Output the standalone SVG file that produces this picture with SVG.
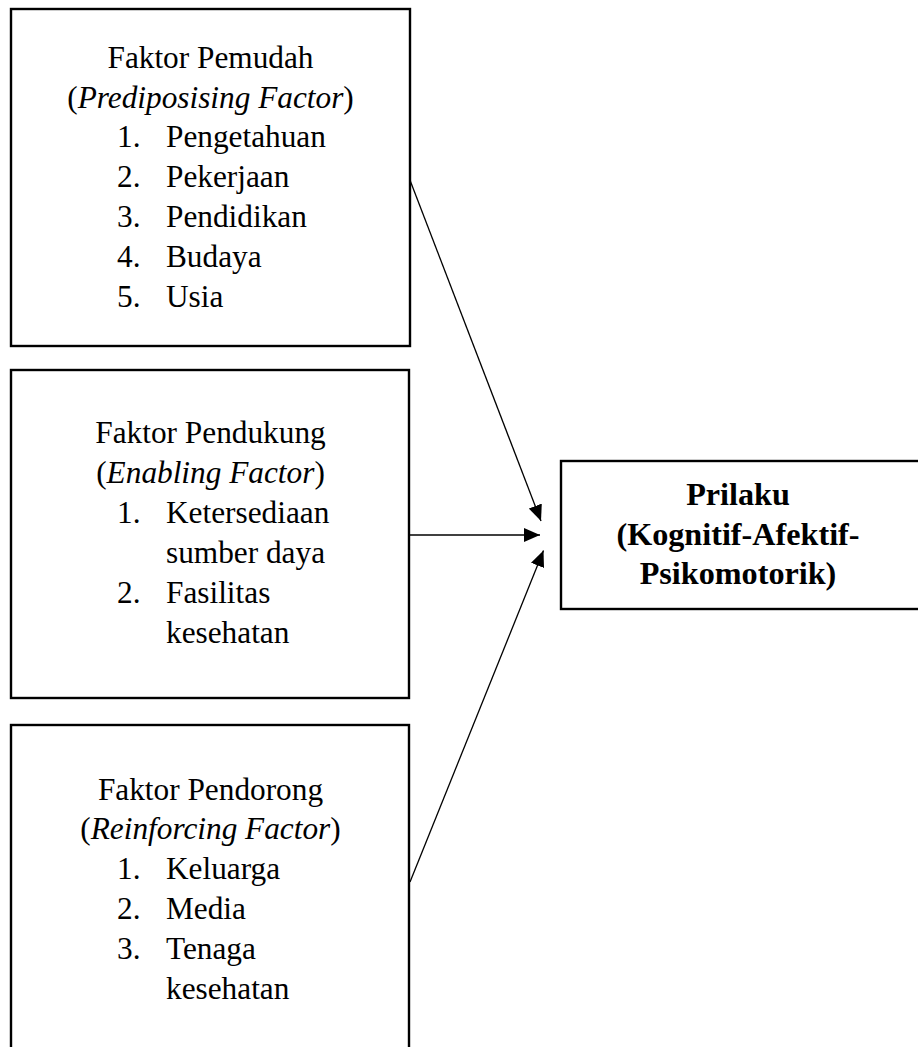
<svg xmlns="http://www.w3.org/2000/svg" width="918" height="1047" viewBox="0 0 918 1047">
<defs>
<style>
.box{fill:#fff;stroke:#000;stroke-width:2.4}
.t{font-family:"Liberation Serif","Times New Roman",serif;font-size:31.3px;fill:#000}
.c{text-anchor:middle}
.b{font-weight:bold;font-size:32.2px}
.conn{stroke:#000;stroke-width:1.3;fill:none}
</style>
<marker id="ah" viewBox="0 0 16 14" refX="16" refY="7" markerWidth="16" markerHeight="14" markerUnits="userSpaceOnUse" orient="auto">
<path d="M0,0 L16,7 L0,14 Z" fill="#000"/>
</marker>
</defs>
<rect width="918" height="1047" fill="#fff"/>
<g id="node-predisposing">
<rect class="box" x="11" y="9" width="399" height="337"/>
<text class="t c" x="210.5" y="68">Faktor Pemudah</text>
<text class="t c" x="210.5" y="107.5">(<tspan font-style="italic">Prediposising Factor</tspan>)</text>
<text class="t" x="117" y="147">1.</text><text class="t" x="166" y="147">Pengetahuan</text>
<text class="t" x="117" y="187">2.</text><text class="t" x="166" y="187">Pekerjaan</text>
<text class="t" x="117" y="227">3.</text><text class="t" x="166" y="227">Pendidikan</text>
<text class="t" x="117" y="267">4.</text><text class="t" x="166" y="267">Budaya</text>
<text class="t" x="117" y="307">5.</text><text class="t" x="166" y="307">Usia</text>
</g>
<g id="node-enabling">
<rect class="box" x="11" y="370" width="398" height="328"/>
<text class="t c" x="210.5" y="443">Faktor Pendukung</text>
<text class="t c" x="210.5" y="483">(<tspan font-style="italic">Enabling Factor</tspan>)</text>
<text class="t" x="117" y="523">1.</text><text class="t" x="166" y="523">Ketersediaan</text>
<text class="t" x="166" y="563">sumber daya</text>
<text class="t" x="117" y="603">2.</text><text class="t" x="166" y="603">Fasilitas</text>
<text class="t" x="166" y="643">kesehatan</text>
</g>
<g id="node-reinforcing">
<rect class="box" x="11" y="725" width="398" height="340"/>
<text class="t c" x="210.5" y="800">Faktor Pendorong</text>
<text class="t c" x="210.5" y="839">(<tspan font-style="italic">Reinforcing Factor</tspan>)</text>
<text class="t" x="117" y="879">1.</text><text class="t" x="166" y="879">Keluarga</text>
<text class="t" x="117" y="919">2.</text><text class="t" x="166" y="919">Media</text>
<text class="t" x="117" y="959">3.</text><text class="t" x="166" y="959">Tenaga</text>
<text class="t" x="166" y="999">kesehatan</text>
</g>
<g id="node-prilaku">
<rect class="box" x="561" y="461" width="370" height="148"/>
<text class="t c b" x="738" y="505">Prilaku</text>
<text class="t c b" x="738" y="545">(Kognitif-Afektif-</text>
<text class="t c b" x="738" y="584">Psikomotorik)</text>
</g>
<g id="connectors">
<line class="conn" x1="410.5" y1="181.5" x2="541" y2="521" marker-end="url(#ah)"/>
<line class="conn" x1="410" y1="535" x2="540" y2="535" marker-end="url(#ah)"/>
<line class="conn" x1="410" y1="882" x2="543.5" y2="550.5" marker-end="url(#ah)"/>
</g>
</svg>
